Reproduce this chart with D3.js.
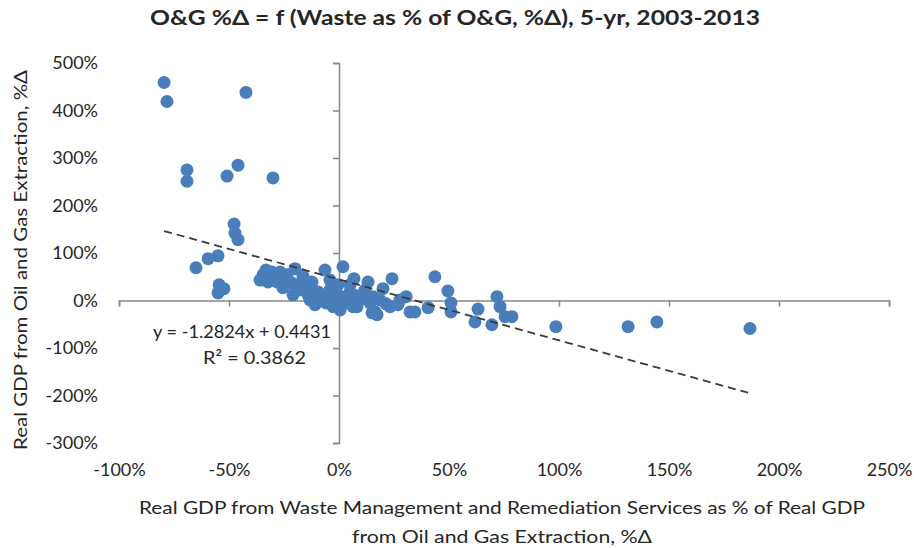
<!DOCTYPE html>
<html><head><meta charset="utf-8">
<script src="https://cdn.jsdelivr.net/npm/d3@7"></script>
<style>
html,body{margin:0;padding:0;background:#fff;}
text{font-family:Lato,"Liberation Sans",Arial,sans-serif;fill:#262626;}
</style></head>
<body><svg id="chart" width="914" height="548"></svg>
<script>
// ---- data (percent values) ----
const xVals = [-79.5,-78.2,-42.3,-69.1,-69.1,-50.9,-45.9,-30.0,-47.7,-47.3,-45.9,-65.0,-59.5,-55.0,-54.5,-52.3,-55.0,
  -34.5,-32.3,-28.2,-25.9,-23.6,-20.0,-21.4,-20.9,-35.9,-30.5,-15.5,-13.2,-11.8,-8.6,-4.1,-4.1,-2.7,0.5,3.6,8.2,10.9,15.5,
  1.8,6.8,24.1,20.0,16.4,23.2,43.6,49.5,50.9,50.9,30.5,32.3,34.5,40.5,63.2,61.8,69.5,71.8,73.2,75.5,78.6,98.6,131.4,144.5,186.8,
  17.3,15.0,9.5,6.4,1.8,-6.4,-17.7,-16.4,-9.5,-7.7,-5.9,-1.4,-0.5,2.7,5.0,-10.9,-14.1,-18.6,-25.5,-26.8,-33.2,-23.2,
  11.8,14.1,18.6,21.4,26.8,27.7,0.5,-4.1,-12.3,7.7,13.2,5.0];
const yVals = [459,419,438,275,251,262,285,258,161,142,128,69,88,94,33,25,16,
  54,39,39,48,54,67,37,12,43,60,27,1,22,8,43,1,-13,8,-5,-13,8,8,
  71,46,46,25,-24,-13,50,20,-5,-24,8,-24,-24,-15,-18,-45,-51,8,-13,-34,-34,-55,-55,-45,-59,
  -30,-26,1,-13,-3,64,35,52,18,6,-5,18,33,8,18,-9,12,22,27,60,64,39,
  22,-5,1,-7,-9,1,-20,22,39,10,39,33];
const xTicks = [-100,-50,0,50,100,150,200,250];
const yTicks = [500,400,300,200,100,0,-100,-200,-300];
const trendCoef = [-1.2824, 0.4431]; // slope, intercept (fractional units)
const titleText = "O&G %Δ = f (Waste as % of O&G, %Δ), 5-yr, 2003-2013";
const xTitle = ["Real GDP from Waste Management and Remediation Services as % of Real GDP","from Oil and Gas Extraction, %Δ"];
const yTitle = "Real GDP from Oil and Gas Extraction, %Δ";
const eqText = ["y = -1.2824x + 0.4431","R² = 0.3862"];

const points = xVals.map((x,i)=>({x, y:yVals[i]}));

const svg = d3.select("#chart");
const x = d3.scaleLinear().domain([-100,250]).range([119,889]);
const y = d3.scaleLinear().domain([500,-300]).range([63,443]);
const axisColor = "#868686";
const fmt = d => d + "%";
const FONT = "Lato,'Liberation Sans',Arial,sans-serif";

// Title
svg.append("text").attr("x",455).attr("y",25).attr("text-anchor","middle")
  .attr("font-size",20).attr("font-weight","bold").attr("textLength",610)
  .attr("lengthAdjust","spacingAndGlyphs").text(titleText);

// X axis line & ticks at y=0
const gx = svg.append("g").attr("transform",`translate(0,${y(0)})`)
  .call(d3.axisBottom(x).tickValues(xTicks).tickFormat("").tickSizeInner(6).tickSizeOuter(6));
gx.selectAll("path,line").attr("stroke",axisColor).attr("stroke-width",1.5);

// Y axis line & ticks at x=0
const gy = svg.append("g").attr("transform",`translate(${x(0)},0)`)
  .call(d3.axisLeft(y).tickValues(yTicks).tickFormat("").tickSizeInner(6).tickSizeOuter(6));
gy.selectAll("path,line").attr("stroke",axisColor).attr("stroke-width",1.5);

// X labels low
const gxl = svg.append("g").attr("transform",`translate(0,443)`)
  .call(d3.axisBottom(x).tickValues(xTicks).tickFormat(fmt).tickSize(0).tickPadding(20));
gxl.select(".domain").remove();
gxl.selectAll("text").attr("font-size",18).attr("fill","#262626").style("font-family",FONT);

// Y labels low (left)
const gyl = svg.append("g").attr("transform",`translate(119,0)`)
  .call(d3.axisLeft(y).tickValues(yTicks).tickFormat(fmt).tickSize(0).tickPadding(21));
gyl.select(".domain").remove();
gyl.selectAll("text").attr("font-size",18).attr("fill","#262626").style("font-family",FONT);

// Points
svg.append("g").selectAll("circle").data(points).join("circle")
  .attr("cx",d=>x(d.x)).attr("cy",d=>y(d.y)).attr("r",6.5)
  .attr("fill","#4a7ebb");

// Trendline
const [xmin,xmax] = d3.extent(xVals);
const tl = [xmin,xmax].map(v=>({x:v, y:(trendCoef[0]*v/100 + trendCoef[1])*100}));
svg.append("path").datum(tl)
  .attr("d",d3.line().x(d=>x(d.x)).y(d=>y(d.y)))
  .attr("stroke","#3a3a3a").attr("stroke-width",1.8).attr("stroke-dasharray","8,5").attr("fill","none");

// Equation
svg.append("text").attr("x",153).attr("y",338).attr("font-size",18)
  .attr("textLength",178).attr("lengthAdjust","spacingAndGlyphs").text(eqText[0]);
svg.append("text").attr("x",203).attr("y",364).attr("font-size",18)
  .attr("textLength",103).attr("lengthAdjust","spacingAndGlyphs").text(eqText[1]);

// X title
svg.append("text").attr("x",502).attr("y",514).attr("text-anchor","middle").attr("font-size",18)
  .attr("textLength",726).attr("lengthAdjust","spacingAndGlyphs").text(xTitle[0]);
svg.append("text").attr("x",502).attr("y",543).attr("text-anchor","middle").attr("font-size",18)
  .attr("textLength",300).attr("lengthAdjust","spacingAndGlyphs").text(xTitle[1]);

// Y title
svg.append("text").attr("transform","translate(27,260) rotate(-90)").attr("text-anchor","middle")
  .attr("font-size",18).attr("textLength",380).attr("lengthAdjust","spacingAndGlyphs").text(yTitle);
</script></body></html>
